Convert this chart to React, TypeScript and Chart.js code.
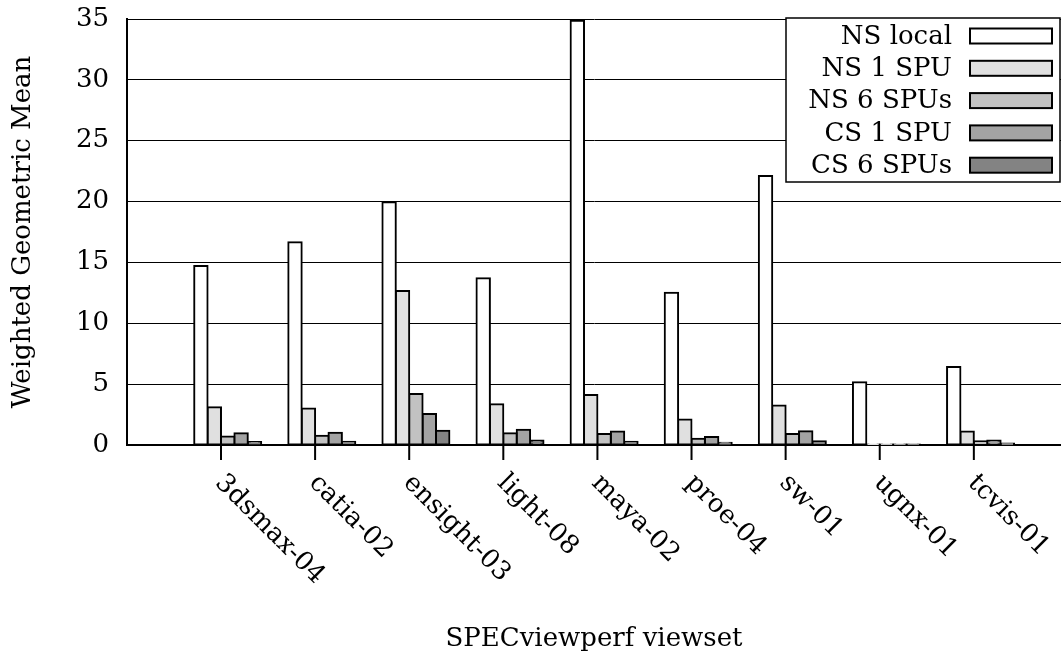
import React, { useEffect, useRef } from 'react';
import { Chart, registerables } from 'chart.js';

Chart.register(...registerables);

// ---- data ----
const categories = ['3dsmax-04', 'catia-02', 'ensight-03', 'light-08', 'maya-02', 'proe-04', 'sw-01', 'ugnx-01', 'tcvis-01'];
const seriesLabels = ['NS local', 'NS 1 SPU', 'NS 6 SPUs', 'CS 1 SPU', 'CS 6 SPUs'];
const nsLocal = [14.7, 16.65, 19.95, 13.7, 34.85, 12.5, 22.1, 5.15, 6.4];
const ns1Spu = [3.1, 3.0, 12.65, 3.35, 4.1, 2.1, 3.25, 0.04, 1.1];
const ns6Spus = [0.7, 0.77, 4.2, 0.96, 0.9, 0.52, 0.9, 0.03, 0.3];
const cs1Spu = [0.96, 1.0, 2.55, 1.25, 1.1, 0.66, 1.12, 0.03, 0.36];
const cs6Spus = [0.25, 0.27, 1.18, 0.36, 0.27, 0.19, 0.3, 0.02, 0.12];
const seriesColors = ['#ffffff', '#e0e0e0', '#c2c2c2', '#a3a3a3', '#838383'];
const yMin = 0;
const yMax = 35;
const yStep = 5;

const FONT = 'DejaVu Serif';
const FONT_SIZE = 26;
const BAR = 13.4;

const xLabelsPlugin = {
  id: 'xLabels',
  afterDraw(chart: any) {
    const { ctx, chartArea } = chart;
    const xs = chart.scales.x;
    ctx.save();
    ctx.strokeStyle = '#000';
    ctx.lineWidth = 2;
    ctx.fillStyle = '#000';
    ctx.font = `${FONT_SIZE}px "${FONT}"`;
    ctx.textAlign = 'left';
    ctx.textBaseline = 'middle';
    categories.forEach((name, i) => {
      const tx = xs.getPixelForValue(i) - BAR / 2;
      ctx.beginPath();
      ctx.moveTo(tx, chartArea.bottom);
      ctx.lineTo(tx, chartArea.bottom + 15);
      ctx.stroke();
      ctx.save();
      ctx.translate(tx - 2, chartArea.bottom + 34);
      ctx.rotate(Math.PI / 4);
      ctx.fillText(name, 0, 0);
      ctx.restore();
    });
    ctx.restore();
  },
};

const boxLegendPlugin = {
  id: 'boxLegend',
  afterDraw(chart: any) {
    const { ctx, chartArea } = chart;
    const right = chartArea.right - 1;
    const top = chartArea.top - 1;
    const left = right - 274;
    const height = 164;
    const rowH = 32.3;
    ctx.save();
    ctx.fillStyle = '#fff';
    ctx.fillRect(left, top, right - left, height);
    ctx.strokeStyle = '#000';
    ctx.lineWidth = 1.5;
    ctx.strokeRect(left, top, right - left, height);
    ctx.font = `${FONT_SIZE}px "${FONT}"`;
    ctx.textAlign = 'right';
    ctx.textBaseline = 'middle';
    chart.data.datasets.forEach((ds: any, k: number) => {
      const cy = top + 18 + k * rowH;
      ctx.fillStyle = '#000';
      ctx.fillText(ds.label, left + 166, cy + 1);
      ctx.fillStyle = ds.backgroundColor;
      ctx.fillRect(left + 184, cy - 7.5, 82, 15);
      ctx.lineWidth = 2;
      ctx.strokeRect(left + 184, cy - 7.5, 82, 15);
    });
    ctx.restore();
  },
};

export default function App() {
  const ref = useRef<HTMLCanvasElement>(null);
  useEffect(() => {
    const values = [nsLocal, ns1Spu, ns6Spus, cs1Spu, cs6Spus];
    const chart = new Chart(ref.current as HTMLCanvasElement, {
      type: 'bar',
      data: {
        datasets: seriesLabels.map((label, k) => ({
          label,
          data: values[k].map((v, i) => ({ x: i, y: v })),
          backgroundColor: seriesColors[k],
          borderColor: '#000',
          borderWidth: 2,
          borderSkipped: false,
          inflateAmount: 1,
          barThickness: BAR,
        })),
      } as any,
      options: {
        responsive: false,
        animation: false,
        events: [],
        layout: { padding: { top: 19, left: 0, right: 0, bottom: 0 } },
        plugins: { legend: { display: false }, tooltip: { enabled: false } },
        scales: {
          x: {
            type: 'linear',
            min: -1.07,
            max: 8.855,
            offset: false,
            grid: { display: false },
            border: { display: true, color: '#000', width: 2 },
            ticks: { display: false },
            title: {
              display: true,
              text: 'SPECviewperf viewset',
              color: '#000',
              font: { family: FONT, size: FONT_SIZE },
              padding: { top: 0, bottom: 7 },
            },
            afterFit: (s: any) => { s.height = 217; s.paddingLeft = 0; s.paddingRight = 0; },
          },
          y: {
            min: yMin,
            max: yMax,
            ticks: { stepSize: yStep, padding: 18, color: '#000', font: { family: FONT, size: FONT_SIZE } },
            grid: { color: '#000', lineWidth: 1, drawTicks: false },
            border: { color: '#000', width: 2 },
            title: {
              display: true,
              text: 'Weighted Geometric Mean',
              color: '#000',
              font: { family: FONT, size: FONT_SIZE },
              padding: { top: 8, bottom: 0 },
            },
            afterFit: (s: any) => { s.width = 127; s.paddingTop = 0; s.paddingBottom = 0; },
          },
        },
      } as any,
      plugins: [xLabelsPlugin, boxLegendPlugin],
    });
    return () => chart.destroy();
  }, []);
  return (
    <div style={{ position: 'absolute', left: 0, top: 0, width: 1061, height: 662, background: '#fff' }}>
      <canvas ref={ref} width={1061} height={662} style={{ display: 'block' }} />
    </div>
  );
}
